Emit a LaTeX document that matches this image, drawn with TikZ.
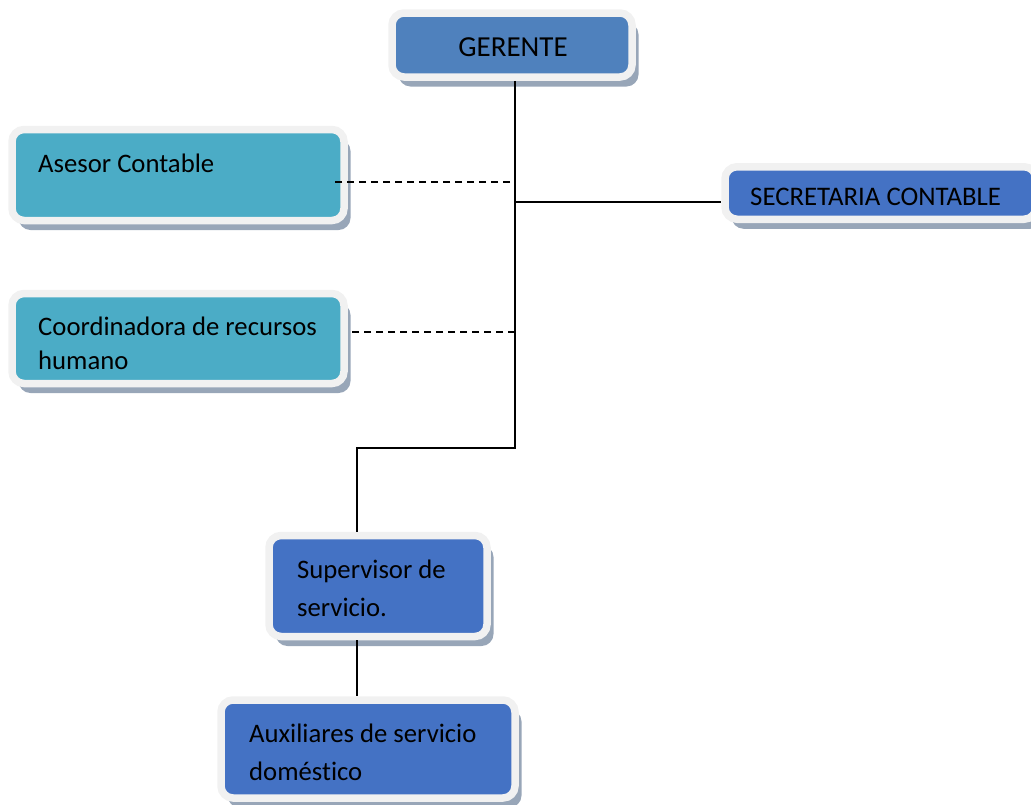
\documentclass[tikz,border=0pt]{standalone}
\usepackage{fontspec}
\setmainfont{Carlito}[Ligatures=NoCommon]
\usetikzlibrary{shadows}

\definecolor{jefeblue}{HTML}{4F81BD}
\definecolor{boxblue}{HTML}{4472C4}
\definecolor{boxteal}{HTML}{4BACC6}
\definecolor{framegray}{HTML}{F1F1F1}
\definecolor{shadegray}{HTML}{98A6B8}

\begin{document}
\begin{tikzpicture}[
    x=1pt, y=-1pt,
    orgbox/.style={
        draw=framegray, line width=7.5pt,
        rounded corners=12pt,
        inner sep=0pt,
        fill=#1,
        drop shadow={shadow xshift=6.5pt, shadow yshift=-9.5pt,
                     fill=shadegray, opacity=1}
    },
    orgtxt/.style={font=\fontsize{26.7}{38}\selectfont, inner sep=0pt,
                   text width=300pt, align=flush left, anchor=base west},
    conn/.style={line width=1.5pt},
    dashconn/.style={line width=1.5pt, dash pattern=on 7pt off 5pt}
]
\useasboundingbox (0,0) rectangle (1031,804);

% =========================================================
% Cajas
% =========================================================
\node[orgbox=jefeblue, minimum width=240pt, minimum height=64pt]
    (gerente) at (512,45) {};
\node[orgbox=boxteal, minimum width=332pt, minimum height=91pt]
    (asesor) at (178,175) {};
\node[orgbox=boxblue, minimum width=311pt, minimum height=52.5pt]
    (secretaria) at (880.5,193) {};
\node[orgbox=boxteal, minimum width=332pt, minimum height=90pt]
    (coordinadora) at (178,338.5) {};
\node[orgbox=boxblue, minimum width=218pt, minimum height=101pt]
    (supervisor) at (378,586) {};
\node[orgbox=boxblue, minimum width=294pt, minimum height=98pt]
    (auxiliares) at (368,749) {};

% Textos
\node[font=\fontsize{29}{32}\selectfont, inner sep=0pt, anchor=base]
    (tgerente) at (513,56.7) {GERENTE};
\node[orgtxt] (tasesor) at (38,172.7) {Asesor Contable};
\node[font=\fontsize{26.8}{32}\selectfont, inner sep=0pt, anchor=base west]
    (tsecretaria) at (750,205) {SECRETARIA CONTABLE};
\node[orgtxt, font=\fontsize{26.7}{33.6}\selectfont]
    (tcoordinadora) at (38,335.7) {Coordinadora de recursos\\humano};
\node[orgtxt] (tsupervisor) at (297,578) {Supervisor de\\servicio.};
\node[orgtxt] (tauxiliares) at (249,742.7) {Auxiliares de servicio\\doméstico};

% =========================================================
% Conectores
% =========================================================
\coordinate (codoA) at (515,448);
\coordinate (codoB) at (357,448);
\coordinate (cruce) at (515,202);
\coordinate (puntoA) at (510,182);
\coordinate (puntoB) at (515,332);

\draw[conn] (gerente.south -| codoA) -- (codoA) -- (codoB)
    -- (codoB |- supervisor.north);
\draw[conn] (cruce) -- (cruce -| secretaria.west);
\draw[conn] (supervisor.south -| codoB) -- (auxiliares.north -| codoB);

\draw[dashconn] (puntoA) -- ([xshift=-14pt]puntoA -| asesor.east);
\draw[dashconn] (puntoB) -- ([xshift=4.5pt]puntoB -| coordinadora.east);

\end{tikzpicture}
\end{document}
